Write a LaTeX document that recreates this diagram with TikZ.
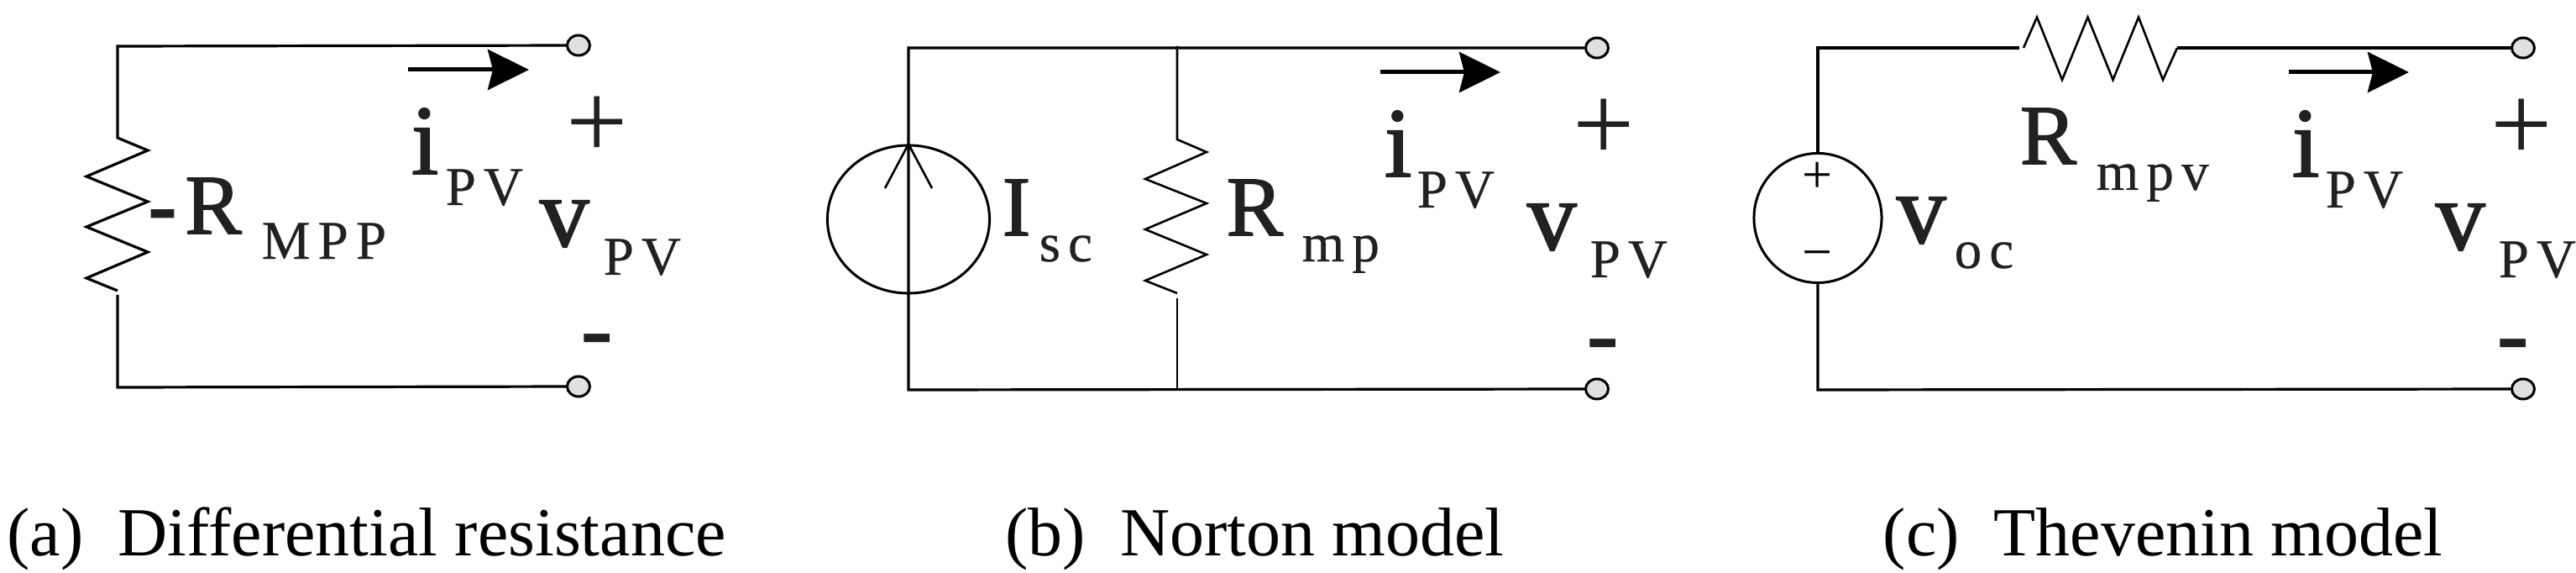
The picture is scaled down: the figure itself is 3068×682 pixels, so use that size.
\documentclass[tikz,border=0pt]{standalone}
\usepackage{fontspec}
\setmainfont{Liberation Serif}
\newfontfamily\spacedfont[LetterSpace=14, FakeBold=0.4]{Liberation Serif}
\newfontfamily\heavyfont[FakeBold=1.5]{Liberation Serif}
\usetikzlibrary{shapes.geometric,arrows.meta}
\definecolor{inkgray}{gray}{0.13}
\tikzset{
	wire/.style={draw=black, line width=0.032cm},
	thinwire/.style={draw=black, line width=0.026cm},
	terminal/.style={draw=black, fill=black!12, shape=ellipse, line width=0.03cm, inner sep=0pt, minimum width=0.27cm, minimum height=0.24cm},
	source/.style={draw=black, shape=ellipse, line width=0.03cm, inner sep=0pt},
	pvarrow/.style={line width=0.05cm, -{Stealth[length=0.49cm, width=0.48cm, inset=0.06cm]}},
	bigsym/.style={text=inkgray, anchor=base west, inner sep=0pt, font=\fontsize{33.6}{40}\heavyfont},
	reslabel/.style={text=inkgray, anchor=base west, inner sep=0pt, font=\fontsize{28.7}{34}\heavyfont},
	subscript/.style={text=inkgray, anchor=base west, inner sep=0pt, font=\fontsize{18.5}{22}\spacedfont},
	plussign/.style={text=inkgray, anchor=base, inner sep=0pt, font=\fontsize{37}{44}\selectfont},
	minussign/.style={text=inkgray, anchor=base, inner sep=0pt, font=\fontsize{33.6}{40}\selectfont\bfseries},
	polarity/.style={text=black, anchor=base, inner sep=0pt, font=\fontsize{18.2}{22}\selectfont},
	caption/.style={anchor=base west, inner sep=0pt, font=\fontsize{23.3}{28}\selectfont},
}
\begin{document}
\begin{tikzpicture}[x=0.01cm, y=-0.01cm]
	\useasboundingbox (0,0) rectangle (3068,682);

	% (a) differential resistance
	\node[terminal, name=T1] at (689,54) {};
	\node[terminal, name=B1] at (689,460) {};
	\coordinate (TL1) at (140,55);
	\coordinate (BL1) at (140,461);
	\coordinate (RT1) at (140,164);
	\coordinate (RB1) at (140,351);
	\draw[wire] (T1) -- (TL1) -- (RT1) -- ++(36,15) -- ++(-73,31) -- ++(73,30) -- ++(-73,30) -- ++(73,30) -- ++(-73,31) -- ++(37,15);
	\draw[wire] (RB1) -- (BL1) -- (B1);
	\coordinate (As1) at (486,83);
	\coordinate (Ae1) at (630,83);
	\draw[pvarrow] (As1) -- (Ae1);
	\node[bigsym, name=I1] at (489,207) {i};
	\node[subscript, name=IS1] at (530,244) {PV};
	\node[plussign, name=P1] at (711,189) {+};
	\node[bigsym, name=V1] at (642,293) {v};
	\node[subscript, name=VS1] at (718,327) {PV};
	\node[minussign, name=M1] at (711,431) {-};
	\node[reslabel, name=R1] at (176,278) {\textbf{-}\kern.1em R};
	\node[subscript, name=RS1] at (311,308) {MPP};
	\node[caption, name=C1] at (8,661) {(a)\enspace Differential resistance};

	% (b) Norton model
	\node[terminal, name=T2] at (1902,57) {};
	\node[terminal, name=B2] at (1902,463) {};
	\node[source, name=S2, minimum width=1.93cm, minimum height=1.76cm] at (1082,261) {};
	\coordinate (TL2) at (1082,57);
	\coordinate (BL2) at (1082,464);
	\draw[wire] (T2) -- (TL2) -- (BL2) -- (B2);
	\coordinate (AL2) at (1054,224);
	\coordinate (AR2) at (1110,224);
	\draw[thinwire] (AL2) -- (S2.north) -- (AR2);
	\coordinate (RT2) at (1402,55);
	\coordinate (RB2) at (1402,355);
	\coordinate (RE2) at (1402,464);
	\draw[thinwire] (RT2) -- (1402,166) -- ++(35,15) -- ++(-73,32) -- ++(73,29) -- ++(-73,31) -- ++(73,30) -- ++(-73,31) -- ++(38,15);
	\draw[thinwire] (RB2) -- (RE2);
	\coordinate (As2) at (1644,86);
	\coordinate (Ae2) at (1787,86);
	\draw[pvarrow] (As2) -- (Ae2);
	\node[bigsym, name=I2] at (1648,210) {i};
	\node[subscript, name=IS2] at (1687,247) {PV};
	\node[plussign, name=P2] at (1910,192) {+};
	\node[bigsym, name=V2] at (1818,297) {v};
	\node[subscript, name=VS2] at (1893,330) {PV};
	\node[minussign, name=M2] at (1909,436) {-};
	\node[reslabel, name=L2] at (1193,280) {I};
	\node[subscript, name=LS2] at (1237,311) {sc};
	\node[reslabel, name=R2] at (1460,280) {R};
	\node[subscript, name=RS2] at (1550,311) {mp};
	\node[caption, name=C2] at (1197,661) {(b)\enspace Norton model};

	% (c) Thevenin model
	\node[terminal, name=T3] at (3005,57) {};
	\node[terminal, name=B3] at (3005,463) {};
	\node[source, name=S3, minimum width=1.52cm, minimum height=1.54cm] at (2165,259.5) {};
	\coordinate (TL3) at (2165,57);
	\coordinate (BL3) at (2165,464);
	\coordinate (RL3) at (2405,57);
	\coordinate (RR3) at (2593,57);
	\draw[wire] (S3.north) -- (TL3) -- (RL3);
	\draw[thinwire] (2410,57) -- ++(16,-36.5) -- ++(30,74.5) -- ++(30.5,-74.5) -- ++(30,74.5) -- ++(30.5,-74.5) -- ++(29,74.5) -- (RR3);
	\draw[wire] (RR3) -- (T3);
	\draw[wire] (S3.south) -- (BL3) -- (B3);
	\coordinate (As3) at (2726,86);
	\coordinate (Ae3) at (2869,86);
	\draw[pvarrow] (As3) -- (Ae3);
	\node[polarity, name=SP3] at (2165,230) {+};
	\node[polarity, name=SM3] at (2165,322) {−};
	\node[bigsym, name=I3] at (2729,210) {i};
	\node[subscript, name=IS3] at (2769,247) {PV};
	\node[plussign, name=P3] at (3003,192) {+};
	\node[bigsym, name=V3] at (2900,297) {v};
	\node[subscript, name=VS3] at (2975,330) {PV};
	\node[minussign, name=M3] at (2993,436) {-};
	\node[bigsym, name=L3] at (2258,289) {v};
	\node[subscript, name=LS3] at (2327,319) {oc};
	\node[reslabel, name=R3] at (2405,195) {R};
	\node[subscript, name=RS3] at (2496,226) {mpv};
	\node[caption, name=C3] at (2242,661) {(c)\enspace Thevenin model};
\end{tikzpicture}
\end{document}
